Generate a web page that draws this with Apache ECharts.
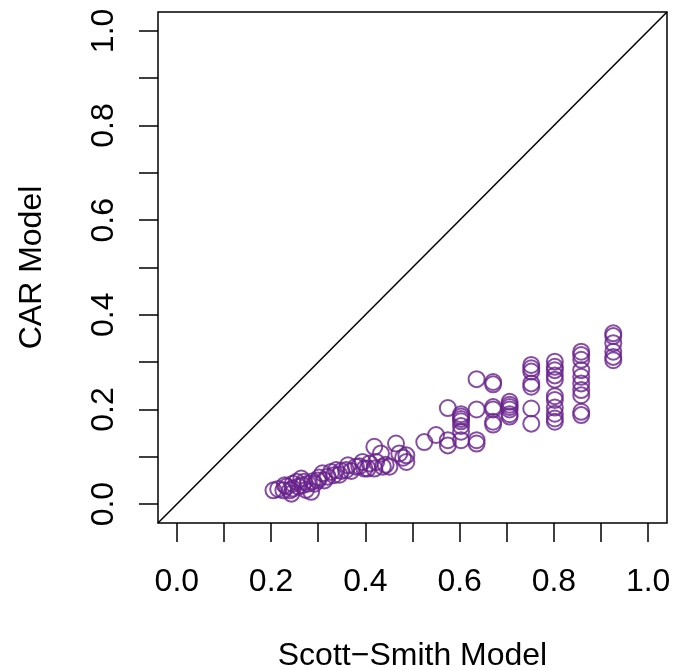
<!DOCTYPE html>
<html>
<head>
<meta charset="utf-8">
<script src="https://cdn.jsdelivr.net/npm/echarts@6/dist/echarts.min.js"></script>
<style>html,body{margin:0;padding:0;background:#fff}#c{width:675px;height:670px}</style>
</head>
<body>
<div id="c"></div>
<script>
const xTicks = [0,0.1,0.2,0.3,0.4,0.5,0.6,0.7,0.8,0.9,1.0];
const xLabels = [0,0.2,0.4,0.6,0.8,1.0];
const yTicks = [0,0.1,0.2,0.3,0.4,0.5,0.6,0.7,0.8,0.9,1.0];
const yLabels = [0,0.2,0.4,0.6,0.8,1.0];
const xTitle = "Scott\u2212Smith Model";
const yTitle = "CAR Model";
const refLine = [[-0.04,-0.04],[1.04,1.04]];
const lowCluster = [
[0.205,0.029],[0.215,0.032],[0.226,0.029],[0.229,0.040],[0.233,0.037],[0.240,0.029],[0.243,0.022],[0.246,0.043],[0.246,0.033],[0.254,0.047],
[0.258,0.037],[0.264,0.054],[0.267,0.040],[0.270,0.047],[0.274,0.030],[0.278,0.043],[0.285,0.026],[0.288,0.048],[0.292,0.043],[0.299,0.050],
[0.302,0.056],[0.309,0.065],[0.313,0.050],[0.320,0.058],[0.327,0.068],[0.333,0.061],[0.338,0.072],[0.345,0.062],[0.349,0.070],[0.359,0.072],
[0.363,0.082],[0.370,0.070],[0.380,0.079],[0.387,0.080],[0.394,0.089],[0.398,0.075],[0.405,0.075],[0.409,0.086],[0.419,0.075],[0.423,0.089],
[0.419,0.121],[0.433,0.107],[0.437,0.079],[0.443,0.083],[0.451,0.079],[0.465,0.128],[0.472,0.107],[0.480,0.098],[0.487,0.103],[0.487,0.089],
[0.525,0.131]
];
const midCluster = [
[0.550,0.146],[0.575,0.203],[0.575,0.135],[0.575,0.124],
[0.603,0.190],[0.603,0.185],[0.603,0.180],[0.603,0.175],[0.603,0.165],[0.603,0.153],[0.603,0.135],
[0.636,0.264],[0.636,0.200],[0.636,0.135],[0.636,0.128],
[0.671,0.258],[0.671,0.253],[0.671,0.205],[0.671,0.200],[0.671,0.174],[0.671,0.168],
[0.706,0.216],[0.706,0.210],[0.706,0.205],[0.706,0.200],[0.706,0.190],[0.706,0.185]
];
const highCluster = [
[0.752,0.294],[0.752,0.287],[0.752,0.280],[0.752,0.255],[0.752,0.248],[0.752,0.202],[0.752,0.170],
[0.802,0.301],[0.802,0.290],[0.802,0.283],[0.802,0.272],[0.802,0.263],[0.802,0.228],[0.802,0.220],[0.802,0.204],[0.802,0.191],[0.802,0.181],[0.802,0.174],
[0.858,0.322],[0.858,0.315],[0.858,0.305],[0.858,0.283],[0.858,0.269],[0.858,0.255],[0.858,0.241],[0.858,0.230],[0.858,0.195],[0.858,0.188],
[0.926,0.361],[0.926,0.355],[0.926,0.340],[0.926,0.322],[0.926,0.311],[0.926,0.304]
];
const points = lowCluster.concat(midCluster, highCluster);

const FONT = "Liberation Sans, Arial, Helvetica, sans-serif";
const FS = 32;
const chart = echarts.init(document.getElementById('c'), null, {renderer:'canvas'});
chart.setOption({
  animation: false,
  backgroundColor: '#ffffff',
  grid: {left:158, right:8, top:12, bottom:147, containLabel:false, outerBoundsMode:'none', show:true, borderColor:'#000', borderWidth:1.5, backgroundColor:'transparent'},
  xAxis: {
    type:'value', min:-0.04, max:1.04,
    name: xTitle, nameLocation:'middle', nameGap:117, nameMoveOverlap:false,
    nameTextStyle:{fontFamily:FONT, fontSize:FS, color:'#000'},
    axisLine:{show:false, onZero:false},
    splitLine:{show:false},
    axisTick:{show:true, inside:false, length:19, customValues:xTicks, lineStyle:{color:'#000', width:1.5}},
    axisLabel:{show:true, margin:43, customValues:xLabels, fontFamily:FONT, fontSize:FS, color:'#000', formatter:v=>Number(v).toFixed(1)}
  },
  yAxis: {
    type:'value', min:-0.04, max:1.04,
    name: yTitle, nameLocation:'middle', nameGap:110, nameRotate:90, nameMoveOverlap:false,
    nameTextStyle:{fontFamily:FONT, fontSize:FS, color:'#000'},
    axisLine:{show:false, onZero:false},
    splitLine:{show:false},
    axisTick:{show:true, inside:false, length:19, customValues:yTicks, lineStyle:{color:'#000', width:1.5}},
    axisLabel:{show:true, margin:38, rotate:90, customValues:yLabels, fontFamily:FONT, fontSize:FS, color:'#000', formatter:v=>Number(v).toFixed(1)}
  },
  series: [
    {type:'line', data:refLine, symbol:'none', silent:true, lineStyle:{color:'#000', width:1.5}, clip:true},
    {type:'scatter', data:points, symbol:'circle', symbolSize:16,
     itemStyle:{color:'transparent', borderColor:'#68228B', borderWidth:2}}
  ]
});
</script>
</body>
</html>
